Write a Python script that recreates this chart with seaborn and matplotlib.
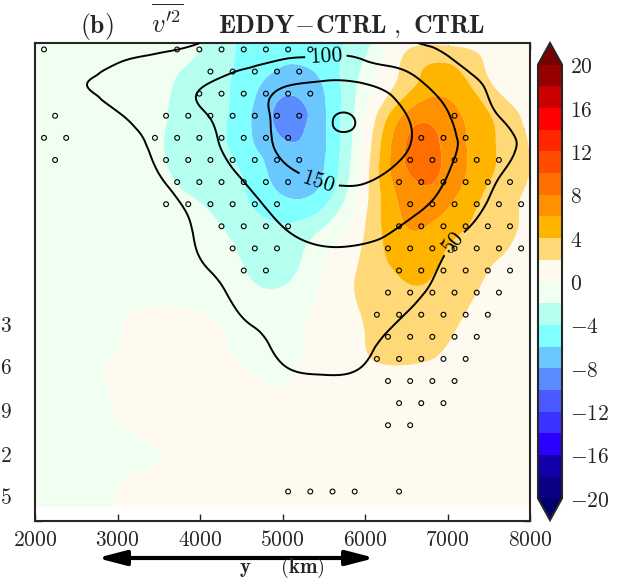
import numpy as np
import pandas as pd
import matplotlib
matplotlib.use("Agg")
import matplotlib.pyplot as plt
import matplotlib.tri as mtri
from matplotlib.colors import ListedColormap, BoundaryNorm
from matplotlib.patches import FancyArrowPatch
import seaborn as sns

# ---------------------------------------------------------------- data
# meridional distance of the grid columns (km)
y_km = [2000, 2500, 3000, 3500, 4000, 4500, 5000, 5500, 6000, 6500, 7000, 7500, 8000]
# vertical coordinate of the grid rows (top to bottom)
z_lev = [8.52, 8.25, 7.75, 7.25, 6.75, 6.25, 5.75, 5.25, 4.75, 4.25,
         3.75, 3.25, 2.75, 2.25, 1.75, 1.25, 0.75, 0.25]

# v'^2 difference EDDY - CTRL (m^2 s^-2), rows follow z_lev
diff_v2 = [
    [-0.8, -0.8, -1.0, -1.3, -1.9, -4.3, -5.3, -4.8, -2.6, 1.2, 1.6, 1.3, 0.6],
    [-0.8, -0.9, -1.1, -1.5, -2.2, -4.4, -5.7, -5.0, -2.0, 2.4, 3.5, 1.6, 0.6],
    [-0.8, -0.9, -1.2, -1.7, -2.8, -4.7, -7.2, -5.9, -1.0, 3.2, 5.3, 2.4, 0.8],
    [-0.8, -0.9, -1.3, -1.8, -2.9, -5.0, -8.6, -6.3, -0.1, 6.3, 6.8, 4.1, 1.4],
    [-0.8, -1.0, -1.4, -1.9, -2.9, -5.0, -7.8, -6.3, 0.6, 8.0, 7.4, 4.5, 1.9],
    [-0.8, -1.0, -1.4, -1.8, -2.7, -4.1, -7.0, -6.0, 1.1, 7.9, 7.5, 4.4, 2.0],
    [-0.8, -1.0, -1.3, -1.6, -2.1, -3.6, -5.8, -4.8, 1.4, 6.8, 6.6, 3.5, 1.7],
    [-0.8, -0.9, -1.2, -1.5, -1.6, -2.7, -3.8, -2.1, 2.0, 6.0, 5.0, 3.2, 1.5],
    [-0.8, -0.9, -1.1, -1.3, -1.5, -2.1, -3.0, -0.4, 2.4, 5.0, 3.8, 2.4, 1.2],
    [-0.7, -0.8, -0.9, -1.0, -1.2, -1.6, -2.2, 0.3, 2.5, 4.0, 3.3, 1.8, 0.9],
    [-0.6, -0.5, -0.2, 0.15, -0.05, -0.6, -0.8, 0.6, 2.2, 3.2, 2.6, 1.4, 0.7],
    [-0.5, -0.3, -0.05, 0.3, 0.2, -0.2, -0.4, 0.6, 2.0, 2.8, 2.1, 1.2, 0.6],
    [-0.5, -0.2, 0.1, 0.4, 0.4, 0.05, -0.2, 0.7, 1.8, 1.95, 1.6, 1.0, 0.5],
    [-0.4, -0.15, 0.05, 0.4, 0.5, 0.4, 0.1, 0.6, 1.2, 1.4, 1.2, 0.8, 0.4],
    [-0.4, -0.15, 0.0, 0.3, 0.5, 0.5, 0.4, 0.6, 0.9, 1.0, 0.9, 0.6, 0.3],
    [-0.4, -0.3, -0.15, 0.0, 0.3, 0.4, 0.4, 0.5, 0.7, 0.8, 0.7, 0.5, 0.3],
    [-0.4, -0.25, -0.05, 0.15, 0.3, 0.4, 0.4, 0.5, 0.6, 0.6, 0.5, 0.4, 0.3],
    [-0.4, -0.2, 0.02, 0.2, 0.3, 0.4, 0.4, 0.4, 0.5, 0.5, 0.5, 0.4, 0.3],
]

# v'^2 of the control run, rows follow z_lev
ctrl_v2 = [
    [15, 28, 38, 45, 50, 68, 84, 92, 90, 56, 42, 30, 18],
    [18, 33, 46, 54, 66, 82, 98, 102, 97, 78, 52, 33, 20],
    [22, 47, 62, 78, 98, 122, 148, 162, 156, 122, 80, 47, 25],
    [12, 28, 48, 72, 96, 125, 162, 194, 193, 150, 102, 56, 35],
    [8, 20, 36, 58, 85, 120, 160, 190, 188, 155, 110, 72, 38],
    [5, 14, 28, 51, 75, 106, 142, 162, 162, 138, 102, 62, 32],
    [3, 10, 22, 40, 63, 88, 118, 138, 138, 120, 88, 50, 25],
    [2, 7, 16, 32, 55, 78, 100, 116, 115, 96, 66, 38, 18],
    [1, 5, 12, 27, 51, 70, 86, 94, 92, 78, 48, 26, 12],
    [1, 4, 9, 20, 40, 60, 74, 80, 78, 64, 40, 20, 9],
    [0, 3, 7, 15, 30, 52, 63, 68, 65, 51, 32, 15, 6],
    [0, 2, 5, 11, 22, 40, 55, 58, 55, 40, 24, 11, 4],
    [0, 1, 4, 8, 16, 30, 49, 53, 49, 32, 18, 8, 3],
    [0, 1, 3, 6, 12, 22, 34, 40, 37, 26, 14, 6, 2],
    [0, 1, 2, 4, 8, 15, 24, 29, 27, 19, 10, 4, 2],
    [0, 0, 1, 3, 5, 10, 16, 20, 18, 13, 7, 3, 1],
    [0, 0, 1, 2, 4, 7, 11, 13, 12, 9, 5, 2, 1],
    [0, 0, 0, 1, 3, 5, 7, 9, 8, 6, 3, 1, 1],
]

# significance of the difference on the staggered test grid ('o' = significant)
sig_mask = [
    "o.....ooooooo.........",
    ".......ooooo..........",
    ".......oooooo.........",
    "o....ooooooo......o...",
    "oo...ooooooo.....ooo..",
    "o....ooooooo....ooooo.",
    "......oooooo....oooooo",
    ".....oooooo.....oooooo",
    "........oooo....oooooo",
    "........ooo....ooooooo",
    ".........oo.....oooooo",
    "...............oooooo.",
    "...............oooooo.",
    "...............ooooo..",
    "...............ooooo..",
    "...............oooo...",
    "................ooo...",
    "...............oo.....",
    "......................",
    "......................",
    "...........oooo.o.....",
]
sig_x0, sig_dx = 2109.0, 269.0     # km, first column and column spacing
sig_z0, sig_dz = 8.405, 0.394      # first row and row spacing

shade_levels = list(range(-20, 22, 2))
shade_colors = ["#0a0082", "#1400aa", "#2a00ff", "#3c32ff", "#4a5aff",
                "#5a8cff", "#6ac8ff", "#80ffff", "#b4fff0", "#f0fff0",
                "#fffaf0", "#ffd878", "#ffb400", "#ff9000", "#ff6e00",
                "#ff4c00", "#ff2600", "#ff0000", "#cc0000", "#960000"]
under_color, over_color = "#00006e", "#780000"
ctrl_levels = [50, 100, 150, 200]
ctrl_labelled = [50, 100, 150]
cbar_ticks = list(range(-20, 24, 4))
x_ticks = [2000, 3000, 4000, 5000, 6000, 7000, 8000]
z_ticks = [0, 1, 2, 3, 4, 5, 6, 7, 8]
side_labels = ["3", "6", "9", "2", "5"]

# ---------------------------------------------------------------- style
sns.set_style("ticks")
plt.rcParams.update({
    "mathtext.fontset": "cm",
    "font.family": ["DejaVu Serif"],
    "axes.linewidth": 1.5,
    "xtick.direction": "in",
    "ytick.direction": "in",
})

fig = plt.figure(figsize=(6.25, 5.8), dpi=100)
W, H = 625.0, 580.0
ax = fig.add_axes([35 / W, 1 - 521 / H, 495 / W, 478 / H])
cax = fig.add_axes([538 / W, 1 - 520 / H, 24 / W, 477 / H])

# smooth the gridded fields with the cubic triangulation refiner
gx, gz = np.meshgrid(np.array(y_km) / 1000.0, np.array(z_lev))
tri = mtri.Triangulation(gx.ravel(), gz.ravel())
refiner = mtri.UniformTriRefiner(tri)
tri_fine, diff_fine = refiner.refine_field(np.array(diff_v2, float).ravel(), subdiv=4)
_, ctrl_fine = refiner.refine_field(np.array(ctrl_v2, float).ravel(), subdiv=4)
tri_km = mtri.Triangulation(tri_fine.x * 1000.0, tri_fine.y, tri_fine.triangles)

cmap = ListedColormap(shade_colors)
cmap.set_under(under_color)
cmap.set_over(over_color)
norm = BoundaryNorm(shade_levels, cmap.N)

cf = ax.tricontourf(tri_km, diff_fine, levels=shade_levels, cmap=cmap,
                    norm=norm, extend="both", antialiased=True)

# stippling where the difference is significant
pts = []
for r, row in enumerate(sig_mask):
    for c, ch in enumerate(row):
        if ch == "o":
            pts.append((sig_x0 + sig_dx * (c + 0.5 * (r % 2)), sig_z0 - sig_dz * r))
sig_df = pd.DataFrame(pts, columns=["y_km", "z"])
sns.scatterplot(data=sig_df, x="y_km", y="z", ax=ax, marker="o", s=12,
                facecolor="none", edgecolor="black", linewidth=0.8,
                legend=False, zorder=3)

# control-run contours
cs = ax.tricontour(tri_km, ctrl_fine, levels=ctrl_levels, colors="black",
                   linewidths=1.4, zorder=4)
ax.clabel(cs, levels=ctrl_labelled, inline=True, inline_spacing=4,
          fmt={v: rf"${v}$" for v in ctrl_levels}, fontsize=15.5,
          manual=[(5527, 8.27), (5430, 6.02), (7066, 4.96)])

ax.set_xlim(2000, 8000)
ax.set_ylim(0, 8.52)
ax.set_xticks(x_ticks)
ax.set_xticklabels([rf"${v}$" for v in x_ticks], fontsize=15.5)
ax.set_yticks(z_ticks)
ax.set_yticklabels([])
ax.set_xlabel("")
ax.set_ylabel("")
ax.tick_params(axis="both", which="both", direction="in", length=5, width=1,
               top=True, right=True, pad=6)
for sp in ax.spines.values():
    sp.set_linewidth(1.5)

cb = fig.colorbar(cf, cax=cax, ticks=cbar_ticks, extend="both")
cb.ax.set_yticklabels([rf"${v}$" for v in cbar_ticks], fontsize=15.5)
cb.ax.tick_params(direction="in", length=5, width=1, right=True, left=False, pad=6)
cb.outline.set_linewidth(1.5)

# titles
fig.text(97 / W, 1 - 33 / H, r"$(\mathbf{b})$", ha="center", va="baseline", fontsize=18.5)
fig.text(167 / W, 1 - 33 / H, r"$\overline{v^{\prime 2}}$", ha="center", va="baseline", fontsize=19)
fig.text(352 / W, 1 - 33 / H, r"$\mathbf{EDDY\!-\!CTRL\ ,\ CTRL}$",
         ha="center", va="baseline", fontsize=18.5)

# labels of the neighbouring panel at the left edge
for lab, py in zip(side_labels, [326, 368, 412, 456, 498]):
    fig.text(0.5 / W, 1 - py / H, rf"${lab}$", ha="left", va="center", fontsize=15.5)

# direction arrow and axis title
arrow = FancyArrowPatch((97 / W, 1 - 558 / H), (375 / W, 1 - 558 / H),
                        transform=fig.transFigure,
                        arrowstyle="<|-|>,head_length=0.85,head_width=0.22",
                        mutation_scale=20, lw=3, color="black", shrinkA=0, shrinkB=0)
fig.add_artist(arrow)
fig.text(282 / W, 1 - 579.5 / H, r"$\mathbf{y\quad\ \ (km)}$", ha="center", va="bottom", fontsize=15)

fig.savefig("out.png", dpi=100)
